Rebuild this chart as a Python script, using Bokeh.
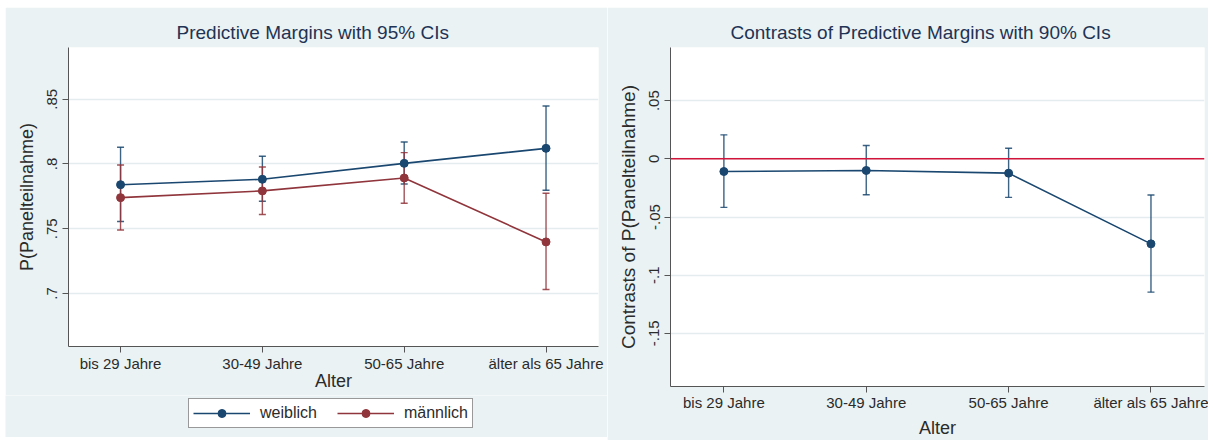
from bokeh.plotting import figure
from bokeh.models import FixedTicker, Legend, LegendItem, Span, Range1d, Title
from bokeh.layouts import row, column
from bokeh.embed import file_html
from bokeh.resources import INLINE

# ---------------- data ----------------
categories = ["bis 29 Jahre", "30-49 Jahre", "50-65 Jahre", "älter als 65 Jahre"]

weiblich = [0.7840, 0.7882, 0.8005, 0.8121]
weiblich_lo = [0.7556, 0.7712, 0.7846, 0.7797]
weiblich_hi = [0.8129, 0.8060, 0.8170, 0.8448]

maennlich = [0.7740, 0.7792, 0.7892, 0.7398]
maennlich_lo = [0.7490, 0.7610, 0.7697, 0.7030]
maennlich_hi = [0.7992, 0.7977, 0.8088, 0.7774]

contrast = [-0.0109, -0.0100, -0.0123, -0.0731]
contrast_lo = [-0.0417, -0.0309, -0.0331, -0.1146]
contrast_hi = [0.0206, 0.0114, 0.0091, -0.0311]

left_yticks = [0.70, 0.75, 0.80, 0.85]
left_ytick_labels = [".7", ".75", ".8", ".85"]
right_yticks = [-0.15, -0.10, -0.05, 0.0, 0.05]
right_ytick_labels = ["-.15", "-.1", "-.05", "0", ".05"]

series_labels = ["weiblich", "männlich"]
titles = ["Predictive Margins with 95% CIs", "Contrasts of Predictive Margins with 90% CIs"]
x_title = "Alter"
left_y_title = "P(Panelteilnahme)"
right_y_title = "Contrasts of P(Panelteilnahme)"

x_pos = list(range(1, len(categories) + 1))

# ---------------- style ----------------
BG = "#EAF2F3"
NAVY = "#1a476f"
MAROON = "#90353b"
RED = "#d2143a"
GRID = "#e4ecef"
FONT = "Liberation Sans"
TXT = "#2b2b2b"
TITLE_COLOR = "#1f3354"
AXIS = "#555555"


def make_fig(width, height, xr, yr, yticks, ylabels, ytitle, title, title_offset, bl, br, bt, bb):
    p = figure(width=width, height=height, x_range=Range1d(*xr), y_range=Range1d(*yr),
               output_backend="svg", toolbar_location=None,
               min_border_left=bl, min_border_right=br, min_border_top=bt, min_border_bottom=bb)
    p.frame_align = False
    p.title = Title(text=title, align="left", offset=title_offset, standoff=10,
                    text_font=FONT, text_font_size="19px", text_font_style="normal",
                    text_color=TITLE_COLOR)
    p.border_fill_color = BG
    p.background_fill_color = "white"
    p.outline_line_color = None

    p.xaxis.ticker = FixedTicker(ticks=x_pos)
    p.xaxis.major_label_overrides = {x: c for x, c in zip(x_pos, categories)}
    p.yaxis.ticker = FixedTicker(ticks=yticks)
    p.yaxis.major_label_overrides = {t: l for t, l in zip(yticks, ylabels)}
    p.yaxis.major_label_orientation = "vertical"

    for ax in (p.xaxis[0], p.yaxis[0]):
        ax.axis_line_color = AXIS
        ax.axis_line_width = 1
        ax.major_tick_line_color = AXIS
        ax.major_tick_out = 6
        ax.major_tick_in = 0
        ax.minor_tick_line_color = None
        ax.major_label_text_font = FONT
        ax.major_label_text_font_size = "15px"
        ax.major_label_text_color = TXT
        ax.axis_label_text_font = FONT
        ax.axis_label_text_font_style = "normal"
        ax.axis_label_text_color = TXT
        ax.axis_label_text_font_size = "18px"

    p.xaxis.axis_label = x_title
    p.yaxis.axis_label = ytitle
    p.yaxis.major_label_standoff = 5
    p.yaxis.axis_label_standoff = 8

    p.xgrid.visible = False
    p.ygrid.ticker = FixedTicker(ticks=yticks)
    p.ygrid.grid_line_color = GRID
    p.ygrid.grid_line_width = 1.5
    return p


def draw_ci(p, lo, hi, color):
    p.segment(x0=x_pos, y0=lo, x1=x_pos, y1=hi, line_color=color, line_width=1.4, line_alpha=0.85)
    p.scatter(x=x_pos, y=lo, marker="dash", size=7, line_color=color, line_width=1.4, line_alpha=0.85)
    p.scatter(x=x_pos, y=hi, marker="dash", size=7, line_color=color, line_width=1.4, line_alpha=0.85)


# ---------------- left panel ----------------
p1 = make_fig(602, 388, (0.633, 4.37), (0.659, 0.890), left_yticks, left_ytick_labels,
              left_y_title, titles[0], 108, 63, 9, 40, 49)
p1.xaxis.major_label_standoff = 2
p1.xaxis.axis_label_standoff = -4

draw_ci(p1, weiblich_lo, weiblich_hi, NAVY)
draw_ci(p1, maennlich_lo, maennlich_hi, MAROON)

p1.line(x_pos, weiblich, line_color=NAVY, line_width=1.6)
p1.scatter(x_pos, weiblich, marker="circle", size=8, fill_color=NAVY, line_color=NAVY)
p1.line(x_pos, maennlich, line_color=MAROON, line_width=1.6)
p1.scatter(x_pos, maennlich, marker="circle", size=8, fill_color=MAROON, line_color=MAROON)

# legend strip below the left panel (series drawn out of view, only their legend glyphs show)
leg = figure(width=602, height=42, x_range=(-10, -9), y_range=(-10, -9), output_backend="svg",
             toolbar_location=None, min_border=0)
leg.frame_align = False
leg.axis.visible = False
leg.grid.visible = False
leg.outline_line_color = None
leg.background_fill_color = BG
leg.border_fill_color = BG
lw = leg.line(x_pos, weiblich, line_color=NAVY, line_width=1.6)
sw = leg.scatter(x_pos, weiblich, marker="circle", fill_color=NAVY, line_color=NAVY)
lm = leg.line(x_pos, maennlich, line_color=MAROON, line_width=1.6)
sm = leg.scatter(x_pos, maennlich, marker="circle", fill_color=MAROON, line_color=MAROON)
legend = Legend(items=[LegendItem(label=series_labels[0], renderers=[lw, sw]),
                       LegendItem(label=series_labels[1], renderers=[lm, sm])],
                location=(183, 9), orientation="horizontal",
                padding=4, spacing=20, margin=0, glyph_width=57, glyph_height=20,
                label_height=20, label_standoff=10,
                label_text_font=FONT, label_text_font_size="16px", label_text_color=TXT,
                border_line_color="#333333", border_line_width=1,
                background_fill_color="white", background_fill_alpha=1)
leg.add_layout(legend, "center")

# ---------------- right panel ----------------
p2 = make_fig(601, 433, (0.625, 4.376), (-0.1957, 0.0957), right_yticks, right_ytick_labels,
              right_y_title, titles[1], 60, 63, 4, 40, 53)
p2.yaxis.axis_label_text_font_size = "19px"
p2.xaxis.major_label_standoff = 1
p2.xaxis.axis_label_standoff = 4

p2.add_layout(Span(location=0, dimension="width", line_color=RED, line_width=1.5))
draw_ci(p2, contrast_lo, contrast_hi, NAVY)
p2.line(x_pos, contrast, line_color=NAVY, line_width=1.6)
p2.scatter(x_pos, contrast, marker="circle", size=8, fill_color=NAVY, line_color=NAVY)

layout = row(column(p1, leg, spacing=0), p2, spacing=0, margin=(7, 0, 0, 5))
open("out.html", "w").write(file_html(layout, INLINE))
